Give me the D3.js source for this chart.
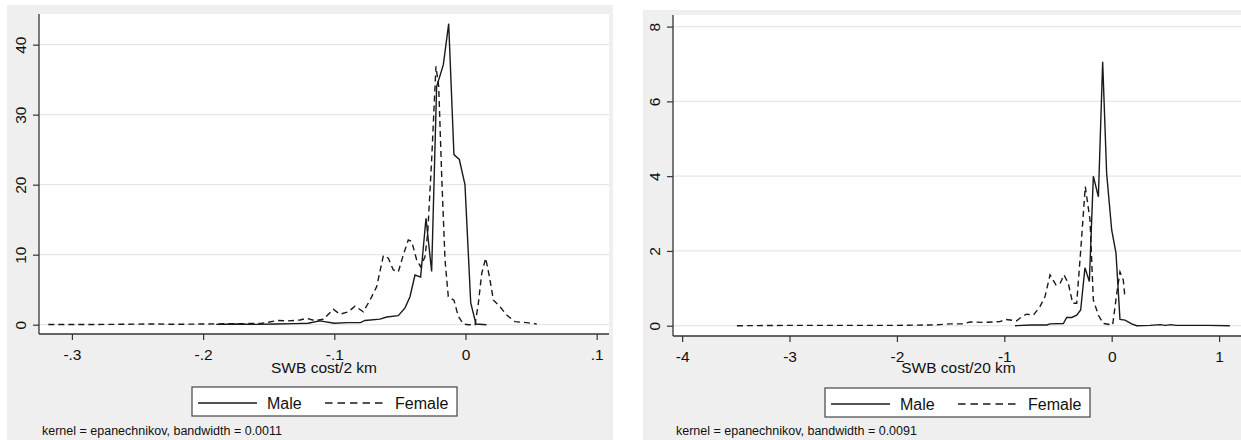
<!DOCTYPE html>
<html>
<head>
<meta charset="utf-8">
<script src="https://cdn.jsdelivr.net/npm/d3@7"></script>
<style>
  body { margin: 0; background: #fff; }
  svg { display: block; font-family: "Liberation Sans", Arial, sans-serif; }
</style>
</head>
<body>
<div id="chart"></div>
<script>
// left panel: SWB cost per 2 km
const leftMale = [[-0.19,0.05],[-0.175,0.1],[-0.16,0.05],[-0.145,0.1],[-0.13,0.15],[-0.12,0.2],[-0.111,0.55],[-0.1,0.2],[-0.09,0.3],[-0.08,0.3],[-0.0766,0.6],[-0.0652,0.8],[-0.06,1.1],[-0.0512,1.3],[-0.0461,2.4],[-0.0423,4.0],[-0.0385,7.1],[-0.0342,6.8],[-0.0301,15.2],[-0.0258,7.6],[-0.022,34.0],[-0.0169,37.1],[-0.0128,43.0],[-0.0088,24.3],[-0.0047,23.6],[-0.0004,20.0],[0.004,3.1],[0.008,0.1],[0.016,0]];
const leftFemale = [[-0.318,0.02],[-0.28,0.03],[-0.24,0.1],[-0.22,0.06],[-0.19,0.12],[-0.17,0.15],[-0.155,0.2],[-0.143,0.6],[-0.135,0.55],[-0.1261,0.67],[-0.1211,0.91],[-0.1147,0.58],[-0.1084,0.77],[-0.1008,2.2],[-0.0957,1.5],[-0.0893,1.84],[-0.0842,2.65],[-0.0779,1.84],[-0.0728,3.5],[-0.0677,5.43],[-0.0626,9.86],[-0.0588,9.5],[-0.055,7.81],[-0.0512,7.57],[-0.0474,9.95],[-0.0436,12.1],[-0.041,11.9],[-0.0372,9.24],[-0.0342,8.29],[-0.0309,9.7],[-0.0288,13.05],[-0.0258,23.5],[-0.0225,36.9],[-0.0204,34.0],[-0.0181,21.1],[-0.0156,9.24],[-0.0131,4.0],[-0.0088,3.5],[-0.0055,1.2],[-0.0016,0.1],[0.0022,0],[0.0073,0],[0.0098,3.05],[0.0124,7.33],[0.0154,9.5],[0.0182,6.9],[0.0213,3.5],[0.0263,2.57],[0.0314,1.38],[0.0378,0.43],[0.0467,0.29],[0.0543,0.1]];
const leftXTicks = [-0.3, -0.2, -0.1, 0, 0.1];
const leftXLabels = ["-.3", "-.2", "-.1", "0", ".1"];
const leftYTicks = [0, 10, 20, 30, 40];

// right panel: SWB cost per 20 km
const rightMale = [[-0.9,0],[-0.75,0.02],[-0.605,0.02],[-0.574,0.05],[-0.45,0.06],[-0.419,0.22],[-0.372,0.22],[-0.326,0.28],[-0.289,0.42],[-0.249,1.55],[-0.208,1.18],[-0.171,4.0],[-0.124,3.45],[-0.084,7.06],[-0.047,4.07],[0,2.56],[0.04,1.94],[0.077,0.17],[0.124,0.15],[0.186,0.05],[0.233,0],[0.357,0.01],[0.45,0.03],[0.5,0.01],[0.55,0.03],[0.6,0.01],[0.75,0.01],[0.9,0.01],[1.1,0]];
const rightFemale = [[-3.49,0],[-3.0,0.01],[-2.5,0.01],[-2.0,0.01],[-1.7,0.02],[-1.6,0.03],[-1.506,0.05],[-1.382,0.05],[-1.319,0.1],[-1.195,0.09],[-1.04,0.11],[-0.993,0.17],[-0.885,0.13],[-0.838,0.24],[-0.791,0.31],[-0.73,0.28],[-0.668,0.51],[-0.621,0.78],[-0.574,1.36],[-0.519,1.09],[-0.481,1.13],[-0.444,1.36],[-0.404,1.13],[-0.363,0.6],[-0.326,0.6],[-0.286,2.11],[-0.246,3.72],[-0.202,2.83],[-0.171,0.69],[-0.124,0.28],[-0.078,0.06],[0.009,0.02],[0.047,0.86],[0.077,1.44],[0.108,1.22],[0.124,0.73]];
const rightXTicks = [-4, -3, -2, -1, 0, 1];
const rightXLabels = ["-4", "-3", "-2", "-1", "0", "1"];
const rightYTicks = [0, 2, 4, 6, 8];

const seriesNames = ["Male", "Female"];

const panels = [
  { bg: [7, 5, 606, 435], plot: [39, 14, 609, 334], xDom: [-0.3251, 0.1094], yDom: [-1.33, 44.38],
    male: leftMale, female: leftFemale, xt: leftXTicks, xl: leftXLabels, yt: leftYTicks,
    title: "SWB cost/2 km", legend: [192, 387], note: "kernel = epanechnikov, bandwidth = 0.0011" },
  { bg: [643, 10, 600, 430], plot: [673, 15, 1244, 336], xDom: [-4.085, 1.232], yDom: [-0.275, 8.31],
    male: rightMale, female: rightFemale, xt: rightXTicks, xl: rightXLabels, yt: rightYTicks,
    title: "SWB cost/20 km", legend: [825, 388], note: "kernel = epanechnikov, bandwidth = 0.0091" }
];

const svg = d3.select("#chart").append("svg")
  .attr("width", 1241)
  .attr("height", 440);

panels.forEach(p => {
  const [px0, py0, px1, py1] = p.plot;
  const g = svg.append("g");

  g.append("rect")
    .attr("x", p.bg[0]).attr("y", p.bg[1])
    .attr("width", p.bg[2]).attr("height", p.bg[3])
    .attr("fill", "#efefef");

  g.append("rect")
    .attr("x", px0).attr("y", py0)
    .attr("width", px1 - px0).attr("height", py1 - py0)
    .attr("fill", "#fff");

  let x = d3.scaleLinear().domain(p.xDom).range([px0, px1]);
  let y = d3.scaleLinear().domain(p.yDom).range([py1, py0]);

  // gridlines
  g.selectAll(".grid")
    .data(p.yt)
    .enter().append("line")
    .attr("x1", px0).attr("x2", px1)
    .attr("y1", d => y(d)).attr("y2", d => y(d))
    .attr("stroke", "#e6e6e6")
    .attr("stroke-width", 1.3);

  // x axis
  let xAxis = d3.axisBottom(x)
    .tickValues(p.xt)
    .tickFormat((d, i) => p.xl[i])
    .tickSize(6)
    .tickPadding(9);
  let xg = g.append("g")
    .attr("transform", `translate(0,${py1})`)
    .call(xAxis);
  xg.select(".domain").attr("d", `M${px0},0H${px1}`);

  // y axis
  let yAxis = d3.axisLeft(y)
    .tickValues(p.yt)
    .tickSize(6)
    .tickFormat(d3.format("d"));
  let yg = g.append("g")
    .attr("transform", `translate(${px0},0)`)
    .call(yAxis);
  yg.select(".domain").attr("d", `M0,${py0}V${py1}`);
  yg.selectAll(".tick text")
    .attr("x", 0).attr("dy", null)
    .attr("transform", "translate(-18.5,0) rotate(-90)")
    .attr("text-anchor", "middle")
    .attr("dominant-baseline", "central");

  [xg, yg].forEach(a => {
    a.selectAll(".domain").attr("stroke", "#333").attr("stroke-width", 1.3);
    a.selectAll(".tick line").attr("stroke", "#333").attr("stroke-width", 1.2);
    a.selectAll(".tick text")
      .attr("fill", "#111")
      .style("font-size", "15.5px")
      .style("font-family", "'Liberation Sans', Arial, sans-serif");
  });

  // density curves
  let line = d3.line().x(d => x(d[0])).y(d => y(d[1]));
  g.append("path")
    .datum(p.female)
    .attr("d", line)
    .attr("fill", "none")
    .attr("stroke", "#1a1a1a")
    .attr("stroke-width", 1.4)
    .attr("stroke-dasharray", "6,4");
  g.append("path")
    .datum(p.male)
    .attr("d", line)
    .attr("fill", "none")
    .attr("stroke", "#1a1a1a")
    .attr("stroke-width", 1.4);

  // axis title
  g.append("text")
    .attr("x", (px0 + px1) / 2)
    .attr("y", 373)
    .attr("text-anchor", "middle")
    .attr("fill", "#111")
    .style("font-size", "15.5px")
    .text(p.title);

  // legend
  const [lx, ly] = p.legend;
  g.append("rect")
    .attr("x", lx).attr("y", ly)
    .attr("width", 265).attr("height", 29)
    .attr("fill", "#fff")
    .attr("stroke", "#444")
    .attr("stroke-width", 1.2);
  g.append("line")
    .attr("x1", lx + 6).attr("x2", lx + 65)
    .attr("y1", ly + 16).attr("y2", ly + 16)
    .attr("stroke", "#1a1a1a").attr("stroke-width", 1.4);
  g.append("text")
    .attr("x", lx + 75).attr("y", ly + 22)
    .attr("fill", "#111")
    .style("font-size", "16px")
    .text(seriesNames[0]);
  g.append("line")
    .attr("x1", lx + 133).attr("x2", lx + 193)
    .attr("y1", ly + 16).attr("y2", ly + 16)
    .attr("stroke", "#1a1a1a").attr("stroke-width", 1.4)
    .attr("stroke-dasharray", "7.5,5");
  g.append("text")
    .attr("x", lx + 203).attr("y", ly + 22)
    .attr("fill", "#111")
    .style("font-size", "16px")
    .text(seriesNames[1]);

  // note
  g.append("text")
    .attr("x", px0 + 3)
    .attr("y", 435)
    .attr("fill", "#111")
    .style("font-size", "12.5px")
    .text(p.note);
});
</script>
</body>
</html>
